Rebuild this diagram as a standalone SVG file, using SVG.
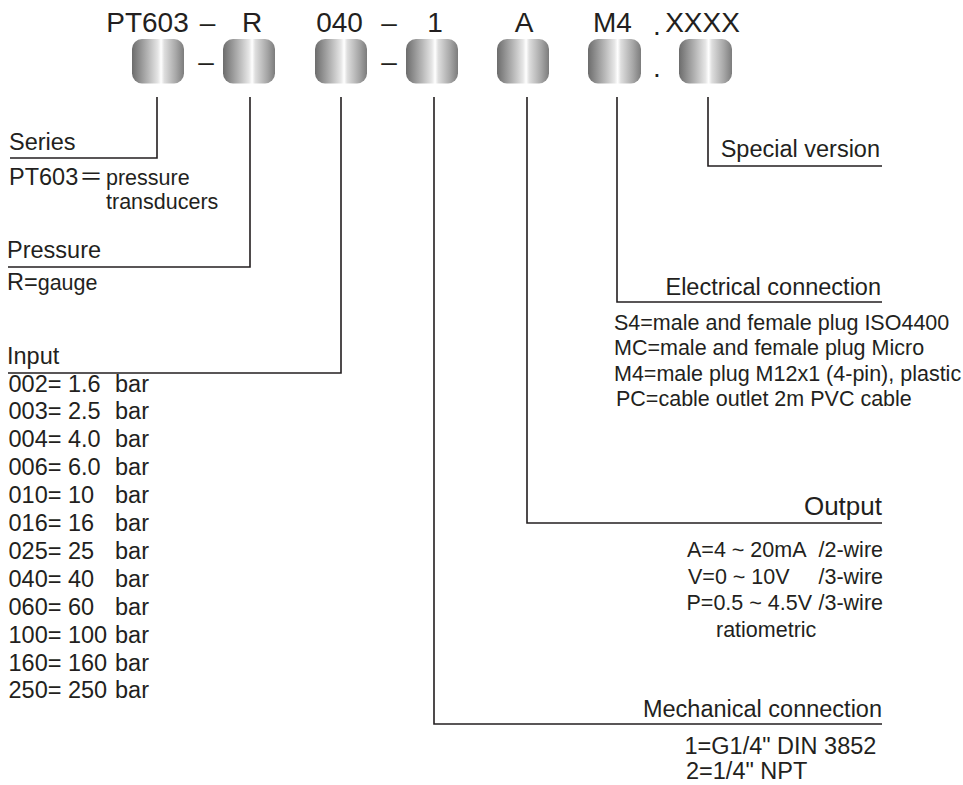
<svg xmlns="http://www.w3.org/2000/svg" width="963" height="785" viewBox="0 0 963 785">
<defs>
<linearGradient id="metal" x1="0" y1="0" x2="1" y2="0">
<stop offset="0" stop-color="#6c6c6c"/>
<stop offset="0.3" stop-color="#b4b4b4"/>
<stop offset="0.5" stop-color="#e6e6e6"/>
<stop offset="0.56" stop-color="#ffffff"/>
<stop offset="0.62" stop-color="#dedede"/>
<stop offset="0.85" stop-color="#a6a6a6"/>
<stop offset="1" stop-color="#7c7c7c"/>
</linearGradient>
<style>
text{font-family:"Liberation Sans","Noto Sans CJK SC",Arial,sans-serif;fill:#231f20}
.hd{font-size:28px}
.t{font-size:23.5px}
.s{font-size:21.5px}
.m{text-anchor:middle}
.e{text-anchor:end}
.box{fill:url(#metal)}
.ln{fill:none;stroke:#231f20;stroke-width:1.6}
</style>
</defs>
<rect width="963" height="785" fill="#ffffff"/>

<g id="header">
<text class="hd m" x="147.5" y="32">PT603</text>
<text class="hd m" x="207.5" y="32">–</text>
<text class="hd m" x="252" y="32">R</text>
<text class="hd m" x="339.5" y="32">040</text>
<text class="hd m" x="389" y="32">–</text>
<text class="hd m" x="435" y="32">1</text>
<text class="hd m" x="524" y="32">A</text>
<text class="hd m" x="612.5" y="32">M4</text>
<text class="hd m" x="657" y="35">.</text>
<text class="hd m" x="702.5" y="32">XXXX</text>
</g>

<g id="boxes">
<rect class="box" x="132" y="39" width="52" height="44.5" rx="10"/>
<rect class="box" x="223" y="39" width="52" height="44.5" rx="10"/>
<rect class="box" x="315" y="39" width="52" height="44.5" rx="10"/>
<rect class="box" x="406" y="39" width="52" height="44.5" rx="10"/>
<rect class="box" x="497" y="39" width="52" height="44.5" rx="10"/>
<rect class="box" x="588" y="39" width="53" height="44.5" rx="10"/>
<rect class="box" x="679" y="39" width="53" height="44.5" rx="10"/>
<text class="hd m" x="206" y="70.5">–</text>
<text class="hd m" x="389" y="70.5">–</text>
<text class="hd m" x="657" y="77">.</text>
</g>

<g id="connectors">
<polyline class="ln" points="157,97 157,158 10,158"/>
<polyline class="ln" points="250,97 250,267 8,267"/>
<polyline class="ln" points="341,97 341,373 8,373"/>
<polyline class="ln" points="434,97 434,724 882,724"/>
<polyline class="ln" points="527,97 527,523 882,523"/>
<polyline class="ln" points="617,97 617,302 882,302"/>
<polyline class="ln" points="708,97 708,166 882,166"/>
</g>

<g id="series">
<text class="t" x="9" y="150">Series</text>
<text class="t" x="9" y="185">PT603<tspan dx="1">＝</tspan></text>
<text class="s" x="106" y="185">pressure</text>
<text class="s" x="106" y="209">transducers</text>
</g>

<g id="pressure">
<text class="t" x="7" y="258">Pressure</text>
<text class="t" x="7" y="290">R=<tspan class="s">gauge</tspan></text>
</g>

<g id="input">
<text class="t" x="7" y="364">Input</text>
<text class="t" x="8.5" y="391.5">002= 1.6</text><text class="t" x="115" y="391.5">bar</text>
<text class="t" x="8.5" y="419.4">003= 2.5</text><text class="t" x="115" y="419.4">bar</text>
<text class="t" x="8.5" y="447.3">004= 4.0</text><text class="t" x="115" y="447.3">bar</text>
<text class="t" x="8.5" y="475.2">006= 6.0</text><text class="t" x="115" y="475.2">bar</text>
<text class="t" x="8.5" y="503.1">010= 10</text><text class="t" x="115" y="503.1">bar</text>
<text class="t" x="8.5" y="531">016= 16</text><text class="t" x="115" y="531">bar</text>
<text class="t" x="8.5" y="558.9">025= 25</text><text class="t" x="115" y="558.9">bar</text>
<text class="t" x="8.5" y="586.8">040= 40</text><text class="t" x="115" y="586.8">bar</text>
<text class="t" x="8.5" y="614.7">060= 60</text><text class="t" x="115" y="614.7">bar</text>
<text class="t" x="8.5" y="642.6">100= 100</text><text class="t" x="115" y="642.6">bar</text>
<text class="t" x="8.5" y="670.5">160= 160</text><text class="t" x="115" y="670.5">bar</text>
<text class="t" x="8.5" y="698.4">250= 250</text><text class="t" x="115" y="698.4">bar</text>
</g>

<g id="special">
<text class="t e" x="880" y="157">Special version</text>
</g>

<g id="electrical">
<text class="t e" x="881" y="295">Electrical connection</text>
<text class="s" x="614" y="330">S4=male and female plug ISO4400</text>
<text class="s" x="614" y="355.3">MC=male and female plug Micro</text>
<text class="s" x="614" y="380.6">M4=male plug M12x1 (4-pin), plastic</text>
<text class="s" x="616" y="406">PC=cable outlet 2m PVC cable</text>
</g>

<g id="output">
<text class="e" style="font-size:26px" x="882" y="515">Output</text>
<text class="s" x="687" y="557">A=4 ~ 20mA</text><text class="s e" x="883" y="557">/2-wire</text>
<text class="s" x="688" y="584">V=0 ~ 10V</text><text class="s e" x="883" y="584">/3-wire</text>
<text class="s" x="686.5" y="610">P=0.5 ~ 4.5V</text><text class="s e" x="883" y="610">/3-wire</text>
<text class="s" x="716" y="637">ratiometric</text>
</g>

<g id="mechanical">
<text class="t e" x="882" y="717">Mechanical connection</text>
<text class="t" x="684.5" y="754">1=G1/4" DIN 3852</text>
<text class="t" x="686" y="779">2=1/4" NPT</text>
</g>
</svg>
